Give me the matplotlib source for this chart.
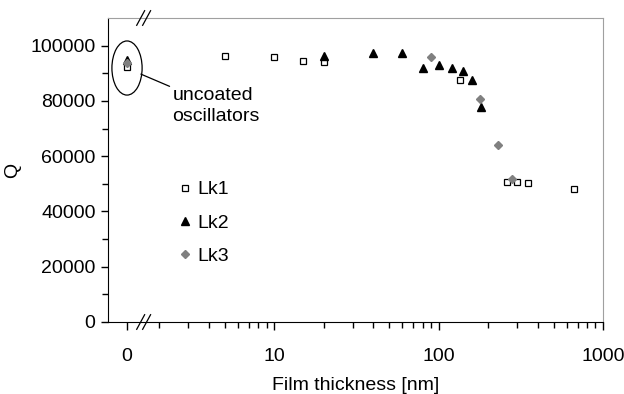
import matplotlib
matplotlib.use("Agg")
import matplotlib.pyplot as plt
import numpy as np
from matplotlib.patches import Ellipse
from matplotlib.ticker import FixedLocator, NullFormatter

plt.rcParams['font.family'] = ['Liberation Sans', 'DejaVu Sans']

# thickness 0 = uncoated oscillators, drawn left of the axis break
lk1_thickness = [0, 5, 10, 15, 20, 135, 260, 300, 350, 670]
lk1_q = [92300, 96300, 96000, 94500, 94200, 87600, 50600, 50800, 50400, 48000]

lk2_thickness = [0, 20, 40, 60, 80, 100, 120, 140, 160, 180]
lk2_q = [94800, 96200, 97400, 97300, 92000, 93000, 91900, 90800, 87400, 77800]

lk3_thickness = [0, 90, 178, 230, 280]
lk3_q = [93600, 95800, 80700, 63900, 51600]

x_ticks = [0, 10, 100, 1000]
x_tick_labels = ["0", "10", "100", "1000"]
y_ticks = [0, 20000, 40000, 60000, 80000, 100000]

ZERO_POS = 1.27  # where the "0" column sits on the log axis
FS = 14


def to_axis(values):
    return [ZERO_POS if v == 0 else v for v in values]


fig = plt.figure(figsize=(6.24, 3.94), dpi=100)
ax = fig.add_axes([108 / 624, 72 / 394, 495 / 624, 304 / 394])

ax.plot(to_axis(lk1_thickness), lk1_q, ls='none', marker='s', ms=4, mfc='white',
        mec='black', mew=0.9, label='Lk1', zorder=3)
ax.plot(to_axis(lk2_thickness), lk2_q, ls='none', marker='^', ms=5.5, mfc='black',
        mec='black', label='Lk2', zorder=4)
ax.plot(to_axis(lk3_thickness), lk3_q, ls='none', marker='D', ms=4.5, mfc='#808080',
        mec='#808080', label='Lk3', zorder=5)

ax.set_xscale('log')
ax.set_xlim(0.973, 1000)
ax.set_ylim(0, 110000)

ax.xaxis.set_major_locator(FixedLocator(to_axis(x_ticks)))
ax.set_xticklabels(x_tick_labels)
minor = [m * d for d in (1, 10, 100) for m in range(2, 10)]
ax.xaxis.set_minor_locator(FixedLocator(minor))
ax.xaxis.set_minor_formatter(NullFormatter())

ax.set_yticks(y_ticks)
ax.yaxis.set_minor_locator(FixedLocator(np.arange(10000, 100000, 20000)))

ax.tick_params(axis='both', which='major', labelsize=FS, direction='out', width=1, color='black')
ax.tick_params(axis='x', which='major', length=6, pad=13)
ax.tick_params(axis='y', which='major', length=5, pad=4)
ax.tick_params(axis='both', which='minor', direction='out', length=4, width=1, color='black')

for side in ('left', 'bottom'):
    ax.spines[side].set_color('black')
for side in ('top', 'right'):
    ax.spines[side].set_color('#a0a0a0')

ax.set_xlabel("Film thickness [nm]", fontsize=FS, labelpad=8)
ax.set_ylabel("Q", fontsize=FS)
ax.yaxis.set_label_coords(-0.175, 0.5)

ax.legend(loc='upper left', bbox_to_anchor=(0.103, 0.522), frameon=False, fontsize=FS,
          handlelength=0.9, handletextpad=0.2, labelspacing=0.81)

# axis break marks
for frac_y in (0, 1):
    for dx in (-0.006, 0.006):
        ax.plot([0.072 + dx - 0.008, 0.072 + dx + 0.008], [frac_y - 0.024, frac_y + 0.024],
                transform=ax.transAxes, color='black', lw=0.9, clip_on=False, zorder=6)

# ellipse around the uncoated points
cx, cy = ax.transAxes.inverted().transform(ax.transData.transform((ZERO_POS, 93000)))
ax.add_patch(Ellipse((cx, cy - 0.01), 0.061, 0.178, transform=ax.transAxes,
                     fill=False, ec='black', lw=0.9, zorder=6))
ax.annotate("uncoated\noscillators", xy=(cx + 0.028, cy - 0.03), xycoords='axes fraction',
            xytext=(0.13, 0.71), textcoords='axes fraction', fontsize=FS,
            va='center', ha='left', linespacing=1.3,
            arrowprops=dict(arrowstyle='-', color='black', lw=0.9, shrinkA=0, shrinkB=0))

fig.savefig("out.png", dpi=100)
